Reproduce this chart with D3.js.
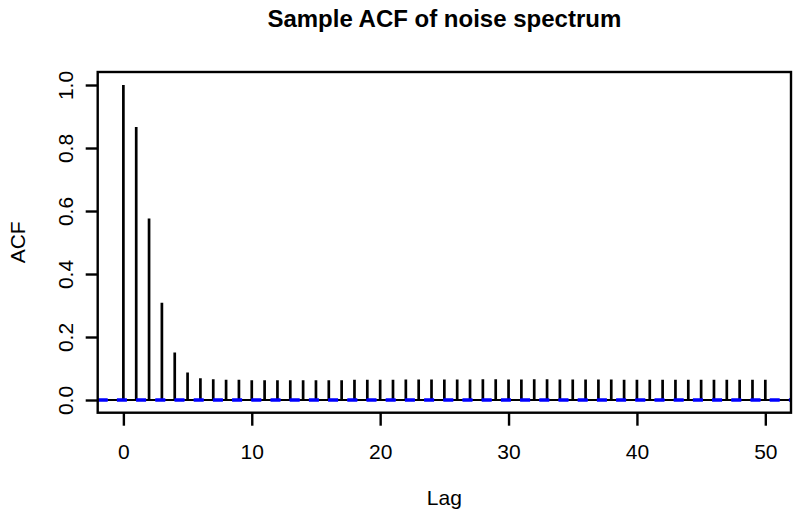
<!DOCTYPE html>
<html>
<head>
<meta charset="utf-8">
<script src="https://cdn.jsdelivr.net/npm/d3@7"></script>
<style>
    body { margin: 0; background: #fff; }
    svg { font-family: "Liberation Sans", Arial, Helvetica, sans-serif; }
    .tick text { font-size: 21px; fill: #000; }
    .tick line { stroke: #000; stroke-width: 2.4; }
</style>
</head>
<body>
<div id="chart"></div>
<script>
var lags = d3.range(0, 51);
var acfValues = [1.000, 0.867, 0.576, 0.309, 0.151, 0.087, 0.069, 0.066, 0.064, 0.064,
    0.063, 0.063, 0.063, 0.063, 0.063, 0.063, 0.063, 0.063, 0.064, 0.064,
    0.064, 0.064, 0.065, 0.065, 0.065, 0.065, 0.065, 0.065, 0.066, 0.066,
    0.065, 0.065, 0.066, 0.066, 0.065, 0.065, 0.065, 0.065, 0.065, 0.064,
    0.064, 0.064, 0.064, 0.064, 0.064, 0.064, 0.064, 0.064, 0.064, 0.064,
    0.064];
var ciBounds = [0.0012, -0.0012];
var xTicks = [0, 10, 20, 30, 40, 50];
var yTicks = [0, 0.2, 0.4, 0.6, 0.8, 1.0];

var width = 800, height = 517;
var box = {left: 97.7, right: 791, top: 72, bottom: 412.7};

var svg = d3.select("#chart").append("svg")
    .attr("width", width)
    .attr("height", height);

var x = d3.scaleLinear()
    .domain([-2, 52])
    .range([box.left, box.right]);

var y = d3.scaleLinear()
    .domain([-0.0403, 1.0413])
    .range([box.bottom, box.top]);

svg.append("defs").append("clipPath")
    .attr("id", "clip")
    .append("rect")
    .attr("x", box.left)
    .attr("y", box.top)
    .attr("width", box.right - box.left)
    .attr("height", box.bottom - box.top);

var plot = svg.append("g").attr("clip-path", "url(#clip)");

// zero line
plot.append("line")
    .attr("x1", box.left).attr("x2", box.right)
    .attr("y1", y(0)).attr("y2", y(0))
    .attr("stroke", "#000")
    .attr("stroke-width", 2.2);

// spikes
plot.selectAll("line.spike")
    .data(lags)
    .enter().append("line")
    .attr("class", "spike")
    .attr("x1", function(d) { return x(d); })
    .attr("x2", function(d) { return x(d); })
    .attr("y1", y(0))
    .attr("y2", function(d, i) { return y(acfValues[i]); })
    .attr("stroke", "#000")
    .attr("stroke-width", 2.7);

// confidence bounds
plot.selectAll("line.ci")
    .data(ciBounds)
    .enter().append("line")
    .attr("class", "ci")
    .attr("x1", box.left).attr("x2", box.right)
    .attr("y1", function(d) { return y(d); })
    .attr("y2", function(d) { return y(d); })
    .attr("stroke", "#0000ff")
    .attr("stroke-width", 2.6)
    .attr("stroke-dasharray", "10,9.2");

// box
svg.append("rect")
    .attr("x", box.left)
    .attr("y", box.top)
    .attr("width", box.right - box.left)
    .attr("height", box.bottom - box.top)
    .attr("fill", "none")
    .attr("stroke", "#000")
    .attr("stroke-width", 2.4);

var xAxis = d3.axisBottom(x)
    .tickValues(xTicks)
    .tickSize(13)
    .tickPadding(18)
    .tickFormat(d3.format("d"));

svg.append("g")
    .attr("transform", "translate(0," + box.bottom + ")")
    .call(xAxis)
    .call(function(g) { g.select(".domain").remove(); })
    .attr("font-family", null)
    .attr("font-size", null);

var yAxis = d3.axisLeft(y)
    .tickValues(yTicks)
    .tickSize(12)
    .tickFormat(d3.format(".1f"));

svg.append("g")
    .attr("transform", "translate(" + box.left + ",0)")
    .call(yAxis)
    .call(function(g) { g.select(".domain").remove(); })
    .attr("font-family", null)
    .attr("font-size", null)
    .selectAll("text")
    .attr("x", null)
    .attr("dy", null)
    .attr("transform", "translate(-25,0) rotate(-90)")
    .style("text-anchor", "middle");

svg.append("text")
    .attr("x", (box.left + box.right) / 2)
    .attr("y", 27)
    .attr("text-anchor", "middle")
    .style("font-size", "24px")
    .style("font-weight", "bold")
    .text("Sample ACF of noise spectrum");

svg.append("text")
    .attr("x", (box.left + box.right) / 2)
    .attr("y", 505)
    .attr("text-anchor", "middle")
    .style("font-size", "21px")
    .text("Lag");

svg.append("text")
    .attr("transform", "translate(25," + ((box.top + box.bottom) / 2) + ") rotate(-90)")
    .attr("text-anchor", "middle")
    .style("font-size", "21px")
    .text("ACF");
</script>
</body>
</html>
